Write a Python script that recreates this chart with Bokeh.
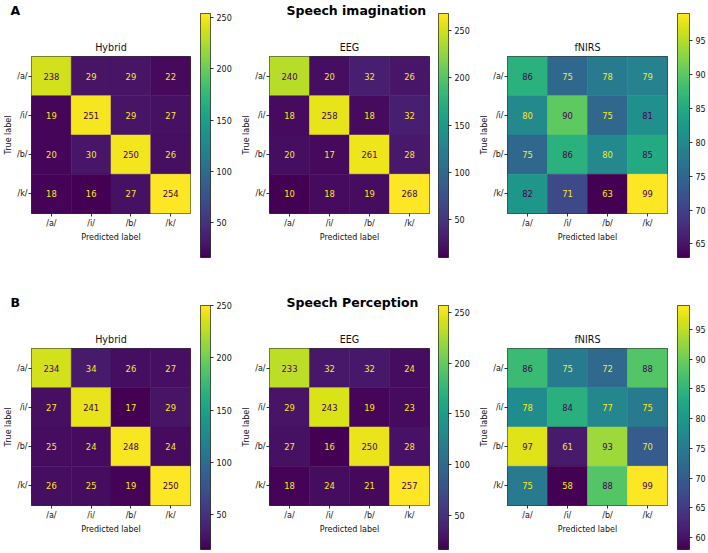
import numpy as np
from bokeh.plotting import figure
from bokeh.models import ColumnDataSource, FactorRange, Range1d, LinearColorMapper, FixedTicker
from bokeh.transform import transform
from bokeh.palettes import Viridis256
from bokeh.layouts import row, column
from bokeh.core.properties import value
from bokeh.embed import file_html
from bokeh.resources import INLINE

# ---------------- data ----------------
labels = ["/a/", "/i/", "/b/", "/k/"]

imag_hybrid = [[238, 29, 29, 22], [19, 251, 29, 27], [20, 30, 250, 26], [18, 16, 27, 254]]
imag_eeg = [[240, 20, 32, 26], [18, 258, 18, 32], [20, 17, 261, 28], [10, 18, 19, 268]]
imag_fnirs = [[86, 75, 78, 79], [80, 90, 75, 81], [75, 86, 80, 85], [82, 71, 63, 99]]

perc_hybrid = [[234, 34, 26, 27], [27, 241, 17, 29], [25, 24, 248, 24], [26, 25, 19, 250]]
perc_eeg = [[233, 32, 32, 24], [29, 243, 19, 23], [27, 16, 250, 28], [18, 24, 21, 257]]
perc_fnirs = [[86, 75, 72, 88], [78, 84, 77, 75], [97, 61, 93, 70], [75, 58, 88, 99]]

ticks_counts = [50, 100, 150, 200, 250]
ticks_fnirs_imag = [65, 70, 75, 80, 85, 90, 95]
ticks_fnirs_perc = [60, 65, 70, 75, 80, 85, 90, 95]

panel_names = ["Hybrid", "EEG", "fNIRS"]
row_titles = ["Speech imagination", "Speech Perception"]
row_letters = ["A", "B"]

FONT = "DejaVu Sans"
VMIN_COLOR = Viridis256[0]
VMAX_COLOR = Viridis256[-1]
TXT = "#111111"
HEAD_H = 19


def style_axis(ax, label_standoff=2, title_standoff=2):
    ax.axis_line_color = None
    ax.major_tick_in = 0
    ax.major_tick_out = 3
    ax.major_tick_line_color = "black"
    ax.major_tick_line_width = 0.8
    ax.minor_tick_line_color = None
    ax.major_label_text_font = FONT
    ax.major_label_text_font_size = "8px"
    ax.major_label_text_color = TXT
    ax.major_label_standoff = label_standoff
    ax.axis_label_text_font = FONT
    ax.axis_label_text_font_size = "8px"
    ax.axis_label_text_font_style = "normal"
    ax.axis_label_text_color = TXT
    ax.axis_label_standoff = title_standoff


def header_fig(text, width, left, right, offset):
    h = figure(width=width, height=HEAD_H, min_border_left=left, min_border_right=right,
               min_border_top=0, min_border_bottom=0,
               x_axis_location=None, y_axis_location=None,
               toolbar_location=None, output_backend="svg", title=text)
    h.title.align = "left"
    h.title.offset = offset
    h.title.standoff = 0
    h.title.text_font = FONT
    h.title.text_font_size = "12.5px"
    h.title.text_font_style = "bold"
    h.title.text_color = "black"
    h.xgrid.visible = False
    h.ygrid.visible = False
    h.outline_line_color = None
    h.border_fill_color = "white"
    h.background_fill_color = "white"
    return h


def matrix_fig(data, name, height, width, left, right, top, bottom):
    arr = np.array(data)
    mn, mx = arr.min(), arr.max()
    thresh = (mn + mx) / 2.0
    xs, ys, vals, txt, tcol = [], [], [], [], []
    for i in range(4):
        for j in range(4):
            v = arr[i, j]
            xs.append(labels[j])
            ys.append(labels[i])
            vals.append(float(v))
            txt.append(str(v))
            tcol.append(VMAX_COLOR if v < thresh else VMIN_COLOR)
    src = ColumnDataSource(dict(x=xs, y=ys, v=vals, t=txt, c=tcol))
    mapper = LinearColorMapper(palette=Viridis256, low=mn, high=mx)

    p = figure(x_range=FactorRange(*labels), y_range=FactorRange(*labels[::-1]),
               width=width, height=height,
               min_border_left=left, min_border_right=right,
               min_border_top=top, min_border_bottom=bottom,
               toolbar_location=None, output_backend="svg", title=name)
    p.title.align = "center"
    p.title.text_font = FONT
    p.title.text_font_size = "9.6px"
    p.title.text_font_style = "normal"
    p.title.text_color = TXT
    p.title.standoff = 7
    p.rect(x="x", y="y", width=1, height=1, source=src,
           fill_color=transform("v", mapper), line_color=transform("v", mapper), line_width=0.5)
    p.text(x="x", y="y", text="t", source=src, text_color="c",
           text_align="center", text_baseline="middle",
           text_font=value(FONT), text_font_size=value("8.4px"))
    p.xaxis.axis_label = "Predicted label"
    p.yaxis.axis_label = "True label"
    style_axis(p.xaxis[0])
    style_axis(p.yaxis[0], label_standoff=1, title_standoff=1)
    p.xgrid.visible = False
    p.ygrid.visible = False
    p.outline_line_color = "black"
    p.outline_line_width = 0.8
    p.border_fill_color = "white"
    p.background_fill_color = "white"
    return p, mn, mx


def cbar_fig(mn, mx, ticks, row_h, width, left, right):
    p = figure(x_range=Range1d(0, 1), y_range=Range1d(mn, mx),
               width=width, height=row_h,
               min_border_left=left, min_border_right=right,
               min_border_top=13, min_border_bottom=row_h - 257,
               x_axis_location=None, y_axis_location="right",
               toolbar_location=None, output_backend="svg", title_location=None)
    mapper = LinearColorMapper(palette=Viridis256, low=mn, high=mx)
    grad = np.linspace(mn, mx, 256).reshape(256, 1)
    p.image(image=[grad], x=0, y=mn, dw=1, dh=mx - mn, color_mapper=mapper)
    p.yaxis.ticker = FixedTicker(ticks=ticks)
    style_axis(p.yaxis[0], label_standoff=3)
    p.xgrid.visible = False
    p.ygrid.visible = False
    p.outline_line_color = "black"
    p.outline_line_width = 0.8
    p.border_fill_color = "white"
    return p


rows = []
datasets = [(imag_hybrid, imag_eeg, imag_fnirs, ticks_fnirs_imag, 292),
            (perc_hybrid, perc_eeg, perc_fnirs, ticks_fnirs_perc, 261)]
for r, (dh, de, dfn, tf, rh) in enumerate(datasets):
    core_h = rh - HEAD_H
    bottom = rh - 213
    h1 = header_fig(row_letters[r], 195, 31, 5, -21)
    f1, mn1, mx1 = matrix_fig(dh, panel_names[0], core_h, 195, 31, 5, 56 - HEAD_H, bottom)
    c1 = cbar_fig(mn1, mx1, ticks_counts, rh, 39, 5, 23)
    h2 = header_fig(row_titles[r], 199, 35, 4, 17)
    f2, mn2, mx2 = matrix_fig(de, panel_names[1], core_h, 199, 35, 4, 56 - HEAD_H, bottom)
    c2 = cbar_fig(mn2, mx2, ticks_counts, rh, 39, 5, 23)
    f3, mn3, mx3 = matrix_fig(dfn, panel_names[2], rh, 199, 35, 4, 56, bottom)
    c3 = cbar_fig(mn3, mx3, tf, rh, 37, 6, 19)
    rows.append(row(column(h1, f1, spacing=0), column(c1), column(h2, f2, spacing=0),
                    column(c2), column(f3), column(c3), spacing=0))

layout = column(*rows, spacing=0)

with open("out.html", "w") as fh:
    fh.write(file_html(layout, INLINE))
